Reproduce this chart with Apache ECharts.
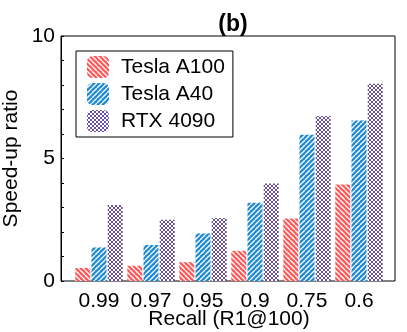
<!DOCTYPE html>
<html>
<head>
<meta charset="utf-8">
<script src="https://cdn.jsdelivr.net/npm/echarts@6/dist/echarts.min.js"></script>
<style>
  html, body { margin: 0; padding: 0; background: #fff; }
  #chart { width: 407px; height: 332px; }
</style>
</head>
<body>
<div id="chart"></div>
<script>
var categories = ['0.99', '0.97', '0.95', '0.9', '0.75', '0.6']
var a100 = [0.53, 0.62, 0.77, 1.23, 2.55, 3.94]
var a40 = [1.37, 1.47, 1.94, 3.19, 5.97, 6.55]
var rtx4090 = [3.1, 2.5, 2.57, 3.98, 6.73, 8.05]

// hatch fills, drawn on small canvases
function stripes(bg, dir) {
  var s = 5
  var c = document.createElement('canvas')
  c.width = s; c.height = s
  var ctx = c.getContext('2d')
  ctx.fillStyle = bg
  ctx.fillRect(0, 0, s, s)
  ctx.strokeStyle = '#fff'
  ctx.lineWidth = 1.3
  for (var i = -1; i <= 1; i++) {
    ctx.beginPath()
    if (dir > 0) { ctx.moveTo(i * s, s); ctx.lineTo(i * s + s, 0) }
    else { ctx.moveTo(i * s, 0); ctx.lineTo(i * s + s, s) }
    ctx.stroke()
  }
  return { image: c, repeat: 'repeat' }
}
function dots(bg) {
  var s = 4
  var c = document.createElement('canvas')
  c.width = s; c.height = s
  var ctx = c.getContext('2d')
  ctx.fillStyle = bg
  ctx.fillRect(0, 0, s, s)
  ctx.strokeStyle = '#fff'
  ctx.lineWidth = 1
  ctx.beginPath()
  ctx.moveTo(0, 0); ctx.lineTo(s, s)
  ctx.moveTo(0, s); ctx.lineTo(s, 0)
  ctx.stroke()
  return { image: c, repeat: 'repeat' }
}

var font = 'Liberation Sans'
var myChart = echarts.init(document.getElementById('chart'))

var option = {
  animation: false,
  textStyle: { fontFamily: font, color: '#000' },
  title: {
    text: '(b)',
    left: 228, top: 8, textAlign: 'center',
    textStyle: { fontFamily: font, fontWeight: 'bold', fontSize: 23, color: '#000' }
  },
  legend: {
    orient: 'vertical',
    left: 76, top: 51,
    padding: [5, 8, 5, 11],
    borderColor: '#000', borderWidth: 1,
    itemWidth: 22, itemHeight: 22, itemGap: 5,
    icon: 'roundRect',
    textStyle: { fontFamily: font, fontSize: 21, color: '#000', padding: [0, 0, 0, 7] },
    data: ['Tesla A100', 'Tesla A40', 'RTX 4090']
  },
  grid: [
    { left: 61, right: 12, top: 36, bottom: 51, show: true, borderColor: '#000', borderWidth: 1, outerBoundsMode: 'none' },
    { left: 73, right: 22, top: 36, bottom: 51, outerBoundsMode: 'none' }
  ],
  xAxis: [
    { type: 'value', gridIndex: 0, show: false, min: 0, max: 1 },
    {
      type: 'category', gridIndex: 1, data: categories,
      name: 'Recall (R1@100)', nameLocation: 'middle', nameGap: 28, nameMoveOverlap: false,
      nameTextStyle: { fontFamily: font, fontSize: 21, color: '#000' },
      axisLine: { show: false },
      axisTick: { inside: true, length: 4, lineStyle: { color: '#000' } },
      axisLabel: { fontFamily: font, fontSize: 21, color: '#000', margin: 10, interval: 0 }
    }
  ],
  yAxis: [
    {
      type: 'value', gridIndex: 0, min: 0, max: 10, interval: 1,
      name: 'Speed-up ratio', nameLocation: 'middle', nameGap: 39, nameMoveOverlap: false,
      nameTextStyle: { fontFamily: font, fontSize: 21, color: '#000' },
      axisLine: { show: true, lineStyle: { color: '#000' } },
      axisTick: { show: true, inside: true, length: 3, lineStyle: { color: '#000' } },
      axisLabel: {
        fontFamily: font, fontSize: 21, color: '#000', margin: 6,
        formatter: function (v) { return v % 5 === 0 ? v : '' }
      },
      splitLine: { show: false }
    },
    { type: 'value', gridIndex: 1, min: 0, max: 10, show: false, splitLine: { show: false } }
  ],
  series: [
    {
      name: 'Tesla A100', type: 'bar', xAxisIndex: 1, yAxisIndex: 1,
      barWidth: 15, barGap: '8%', data: a100,
      itemStyle: { color: stripes('#ff5757', -1) }
    },
    {
      name: 'Tesla A40', type: 'bar', xAxisIndex: 1, yAxisIndex: 1,
      barWidth: 15, barGap: '8%', data: a40,
      itemStyle: { color: stripes('#1c8ad2', 1) }
    },
    {
      name: 'RTX 4090', type: 'bar', xAxisIndex: 1, yAxisIndex: 1,
      barWidth: 15, barGap: '8%', data: rtx4090,
      itemStyle: { color: dots('#6b4e9e') }
    }
  ]
}

myChart.setOption(option)
</script>
</body>
</html>
